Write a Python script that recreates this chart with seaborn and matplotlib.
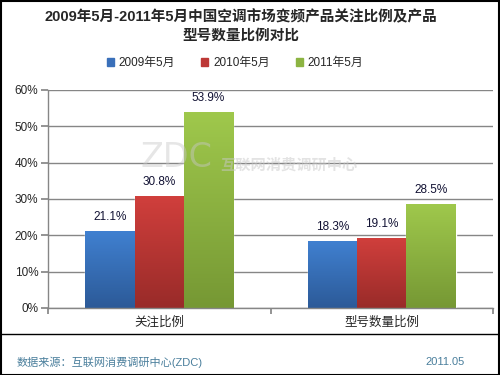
import numpy as np
import pandas as pd
import matplotlib.pyplot as plt
import seaborn as sns
from matplotlib.colors import LinearSegmentedColormap
from matplotlib.patches import Patch, Rectangle
from matplotlib.lines import Line2D

# chart data
categories = ['关注比例', '型号数量比例']
periods = ['2009年5月', '2010年5月', '2011年5月']
v2009 = [21.1, 18.3]
v2010 = [30.8, 19.1]
v2011 = [53.9, 28.5]
yticks = [0, 10, 20, 30, 40, 50, 60]

top_colors = ['#4080d0', '#d03f3c', '#9fc84c']
bottom_colors = ['#2c5a98', '#992b29', '#769834']
mid_colors = ['#3a70ba', '#bd3836', '#8cb442']

sns.set_theme(style='white')
plt.rcParams['font.family'] = ['Liberation Sans', 'Noto Sans CJK SC', 'DejaVu Sans']

df = pd.DataFrame({
    'cat': categories * 3,
    'period': [p for p in periods for _ in categories],
    'value': v2009 + v2010 + v2011,
})

fig = plt.figure(figsize=(5, 3.75), dpi=100)
ax = fig.add_axes([0.096, 0.1787, 0.89, 0.5813])

sns.barplot(data=df, x='cat', y='value', hue='period', hue_order=periods,
            palette=mid_colors, saturation=1, width=0.665, gap=0,
            legend=False, errorbar=None, ax=ax)

# gradient fill on each bar + value labels
for hi, cont in enumerate(ax.containers):
    cmap = LinearSegmentedColormap.from_list('g', [bottom_colors[hi], top_colors[hi]])
    grad = np.linspace(0, 1, 100).reshape(-1, 1)
    for bar in cont:
        x0, y0 = bar.get_x(), bar.get_y()
        ax.imshow(grad, extent=[x0, x0 + bar.get_width(), y0, y0 + bar.get_height()],
                  origin='lower', aspect='auto', cmap=cmap, zorder=2)
    ax.bar_label(cont, labels=[f'{v:.1f}%' for v in cont.datavalues],
                 padding=6, fontsize=8.5, color='#111133', zorder=5)

ax.set_xlim(-0.5, 1.5)
ax.set_ylim(0, 60)
ax.set_yticks(yticks)
ax.set_yticklabels([f'{t}%' for t in yticks], fontsize=8.5)
ax.set_xticks([-0.5, 0.5, 1.5])
ax.set_xticklabels([])
ax.set_xticks([0, 1], minor=True)
ax.set_xticklabels(categories, minor=True, fontsize=9)
ax.tick_params(axis='x', which='minor', length=0, pad=6)
ax.tick_params(axis='x', which='major', length=4, color='#868686', direction='out', bottom=True)
ax.tick_params(axis='y', length=5, color='#868686', direction='out', left=True, pad=2)
ax.set_xlabel('')
ax.set_ylabel('')
ax.set_axisbelow(True)
ax.yaxis.grid(True, color='#868686', linewidth=1)
for s in ['top', 'right']:
    ax.spines[s].set_visible(False)
for s in ['left', 'bottom']:
    ax.spines[s].set_color('#868686')
    ax.spines[s].set_linewidth(1)

# watermark
fig.text(0.352, 0.58, 'ZDC', fontsize=24, color='#c8c8c8', alpha=0.45,
         ha='center', va='center', family='DejaVu Sans')
fig.text(0.44, 0.56, '互联网消费调研中心', fontsize=11, color='#c8c8c8', alpha=0.5,
         ha='left', va='center', fontweight='bold')

# title
fig.text(0.482, 0.955, '2009年5月-2011年5月中国空调市场变频产品关注比例及产品',
         ha='center', va='center', fontsize=10.5, fontweight='bold')
fig.text(0.482, 0.905, '型号数量比例对比', ha='center', va='center',
         fontsize=10.5, fontweight='bold')

# legend
handles = [Patch(color=c) for c in mid_colors]
fig.legend(handles, periods, loc='center', bbox_to_anchor=(0.47, 0.832), ncol=3,
           frameon=False, fontsize=8.5, handlelength=0.6, handleheight=0.6,
           handletextpad=0.4, columnspacing=2.2)

# footer
fig.add_artist(Line2D([0, 1], [0.109, 0.109], color='black', linewidth=1))
fig.text(0.034, 0.035, '数据来源：互联网消费调研中心(ZDC)', fontsize=8, color='#4a7f9c',
         ha='left', va='center')
fig.text(0.93, 0.035, '2011.05', fontsize=8, color='#4a7f9c', ha='right', va='center')

# border
fig.add_artist(Rectangle((0.001, 0.001), 0.997, 0.997, transform=fig.transFigure,
                         fill=False, edgecolor='black', linewidth=1.5))

plt.savefig('out.png', dpi=100)
